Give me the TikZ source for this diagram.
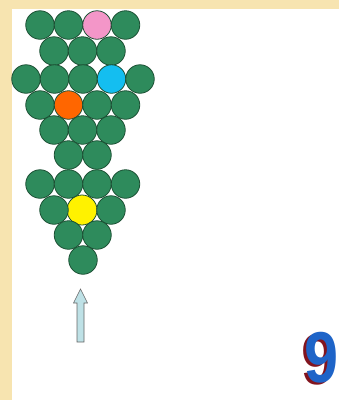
\documentclass[tikz,border=0pt]{standalone}
\usepackage{fontspec}
\setmainfont{Liberation Sans}
\begin{document}
\begin{tikzpicture}[x=1pt,y=-1pt,
  ball/.style={circle,draw=ballline,line width=0.8pt,minimum size=28.5pt,inner sep=0pt,fill=ballgreen},
  ninetxt/.style={font=\fontsize{72}{72}\selectfont\bfseries,inner sep=0pt}]
\definecolor{ballgreen}{RGB}{46,139,92}
\definecolor{ballline}{RGB}{28,80,52}
\definecolor{bgbeige}{RGB}{247,228,176}
\definecolor{ninered}{RGB}{130,20,30}
\definecolor{nineblue}{RGB}{30,100,200}
\definecolor{arrowfill}{RGB}{190,225,230}
\useasboundingbox (0,0) rectangle (339,400);
\fill[bgbeige] (0,0) rectangle (339,400);
\fill[white] (11.5,9) rectangle (339,400);
% yellow (behind neighbours)
\node[ball,fill=yellow,minimum size=30pt] (y1) at (82,210) {};
% row 1
\node[ball] (a1) at (40,25) {};
\node[ball] (a2) at (68.5,25) {};
\node[ball,fill={rgb,255:red,243;green,150;blue,200}] (a3) at (97,25) {};
\node[ball] (a4) at (125.5,25) {};
% row 2
\node[ball] (b1) at (54,51) {};
\node[ball] (b2) at (82.5,51) {};
\node[ball] (b3) at (111,51) {};
% row 3
\node[ball] (c1) at (26,79) {};
\node[ball] (c2) at (54.5,79) {};
\node[ball] (c3) at (83,79) {};
\node[ball,fill={rgb,255:red,20;green,190;blue,240}] (c4) at (111.5,79) {};
\node[ball] (c5) at (140,79) {};
% row 4
\node[ball] (d1) at (40,105) {};
\node[ball,fill={rgb,255:red,255;green,102;blue,0}] (d2) at (68.5,105) {};
\node[ball] (d3) at (97,105) {};
\node[ball] (d4) at (125.5,105) {};
% row 5
\node[ball] (e1) at (54,130) {};
\node[ball] (e2) at (82.5,130) {};
\node[ball] (e3) at (111,130) {};
% row 6
\node[ball] (f1) at (68.5,155) {};
\node[ball] (f2) at (97,155) {};
% row 7
\node[ball] (g1) at (40,184) {};
\node[ball] (g2) at (68.5,184) {};
\node[ball] (g3) at (97,184) {};
\node[ball] (g4) at (125.5,184) {};
% row 8
\node[ball] (h1) at (54,210) {};
\node[ball] (h3) at (111,210) {};
% row 9
\node[ball] (i1) at (68.5,235) {};
\node[ball] (i2) at (97,235) {};
% row 10
\node[ball] (j1) at (83,260) {};
% arrow
\draw[fill=arrowfill,draw=gray!80!black,line width=0.6pt,line join=miter]
  (77,342) -- (77,303) -- (73.5,303) -- (80.5,289) -- (87.5,303) -- (84,303) -- (84,342) -- cycle;
% nine
\node[ninetxt,text=ninered,anchor=base east] (n2) at (336,384) {\scalebox{0.85}[1]{9}};
\node[ninetxt,text=nineblue,anchor=base east] (n1) at (338.5,382) {\scalebox{0.85}[1]{9}};
\end{tikzpicture}
\end{document}
